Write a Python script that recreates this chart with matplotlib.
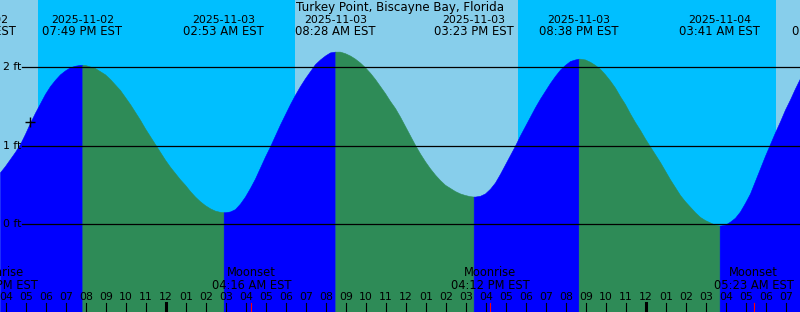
import pandas as pd
import matplotlib
matplotlib.use('Agg')
import matplotlib.pyplot as plt
import matplotlib.transforms as mtransforms

title = 'Turkey Point, Biscayne Bay, Florida'

# tide height (ft) every 15 minutes, starting at the left edge of the graph
sample_start = '2025-11-02 15:42'
heights = [0.66, 0.74, 0.83, 0.92, 1.02, 1.15, 1.29, 1.42, 1.54, 1.66,
           1.76, 1.84, 1.91, 1.96, 2.00, 2.02, 2.03, 2.03, 2.01, 1.99,
           1.95, 1.91, 1.85, 1.78, 1.71, 1.62, 1.53, 1.43, 1.33, 1.22,
           1.12, 1.02, 0.92, 0.82, 0.73, 0.65, 0.57, 0.50, 0.42, 0.35,
           0.29, 0.24, 0.20, 0.17, 0.155, 0.15, 0.16, 0.19, 0.26, 0.35,
           0.46, 0.58, 0.72, 0.86, 0.99, 1.13, 1.27, 1.40, 1.53, 1.65,
           1.76, 1.86, 1.95, 2.04, 2.10, 2.15, 2.19, 2.20, 2.20, 2.18,
           2.15, 2.11, 2.06, 2.00, 1.93, 1.85, 1.76, 1.67, 1.57, 1.48,
           1.37, 1.25, 1.13, 1.01, 0.90, 0.80, 0.71, 0.63, 0.56, 0.50,
           0.46, 0.42, 0.39, 0.37, 0.355, 0.35, 0.36, 0.39, 0.45, 0.53,
           0.64, 0.76, 0.88, 1.00, 1.13, 1.25, 1.37, 1.49, 1.60, 1.70,
           1.80, 1.89, 1.97, 2.03, 2.08, 2.10, 2.11, 2.10, 2.07, 2.03,
           1.98, 1.91, 1.83, 1.74, 1.63, 1.53, 1.41, 1.30, 1.20, 1.09,
           0.99, 0.89, 0.79, 0.68, 0.57, 0.47, 0.37, 0.29, 0.22, 0.15,
           0.09, 0.05, 0.02, -0.01, -0.02, -0.01, 0.03, 0.08, 0.16, 0.27,
           0.39, 0.55, 0.71, 0.87, 1.02, 1.17, 1.31, 1.46, 1.59, 1.73,
           1.86]

# high and low tides
tide_times = ['2025-11-02 14:31', '2025-11-02 19:49', '2025-11-03 02:53',
              '2025-11-03 08:28', '2025-11-03 15:23', '2025-11-03 20:38',
              '2025-11-04 03:41', '2025-11-04 09:19']
tide_heights = [0.45, 2.03, 0.15, 2.20, 0.35, 2.11, -0.02, 2.25]

# sunset / sunrise
sun_times = ['2025-11-02 17:36', '2025-11-03 06:27', '2025-11-03 17:36', '2025-11-04 06:30']

# moon events
moon_times = ['2025-11-02 15:36', '2025-11-03 04:16', '2025-11-03 16:12', '2025-11-04 05:23']
moon_events = ['Moonrise', 'Moonset', 'Moonrise', 'Moonset']

# "now" mark
now_time = '2025-11-02 17:12'
now_height = 1.30

ft_levels = [0, 1, 2]

day_color = '#87CEEB'
night_color = '#00BFFF'
flood_color = '#0000FF'
ebb_color = '#2E8B57'

midnight = pd.Timestamp('2025-11-03 00:00')


def hrs(t):
    return (pd.to_datetime(t) - midnight) / pd.Timedelta(hours=1)


t0 = hrs(sample_start)
t1 = t0 + 40
ybot, ytop = -1.123, 2.859

samp_t = [hrs(t) for t in pd.date_range(sample_start, periods=len(heights), freq='15min')]
ev_t = [hrs(t) for t in tide_times]
pts = sorted(list(zip(samp_t, heights)) + [p for p in zip(ev_t, tide_heights) if t0 <= p[0] <= t1])
all_t = [p[0] for p in pts]
all_h = [p[1] for p in pts]

fig = plt.figure(figsize=(8, 3.12), dpi=100)
ax = fig.add_axes([0, 0, 1, 1])
ax.set_xlim(t0, t1)
ax.set_ylim(ybot, ytop)
ax.axis('off')

# day / night background
edges = [t0] + [hrs(t) for t in sun_times] + [t1]
for i in range(len(edges) - 1):
    ax.axvspan(edges[i], edges[i + 1], color=day_color if i % 2 == 0 else night_color, lw=0)

# rising (flood) and falling (ebb) fills
for i in range(len(ev_t) - 1):
    a, b = max(ev_t[i], t0), min(ev_t[i + 1], t1)
    if b <= a:
        continue
    seg = [(t, h) for t, h in zip(all_t, all_h) if a <= t <= b]
    col = flood_color if tide_heights[i + 1] > tide_heights[i] else ebb_color
    ax.fill_between([s[0] for s in seg], [s[1] for s in seg], ybot,
                    color=col, lw=0.4, edgecolor=col)

# height lines
for lv in ft_levels:
    ax.plot([t0 + 22 / 20, t1], [lv, lv], color='black', lw=0.9)
    ax.text(t0 + 3 / 20, lv, f'{lv} ft', fontsize=7.8, va='center', ha='left')

ax.plot(hrs(now_time), now_height, marker='+', color='black', ms=6.5, mew=1.0)

blend = mtransforms.blended_transform_factory(ax.transData, fig.transFigure)

fig.text(0.5, 1 - 7.5 / 312, title, fontsize=8.6, ha='center', va='center')

# tide event labels
for t in pd.to_datetime(tide_times):
    x = hrs(t)
    ax.text(x, 1 - 20 / 312, t.strftime('%Y-%m-%d'), transform=blend,
            fontsize=7.8, ha='center', va='center', clip_on=False)
    ax.text(x, 1 - 31.5 / 312, t.strftime('%I:%M %p EST'), transform=blend,
            fontsize=8.4, ha='center', va='center', clip_on=False)

# moon labels and ticks
for t, ev in zip(pd.to_datetime(moon_times), moon_events):
    x = hrs(t)
    ax.text(x, 1 - 273 / 312, ev, transform=blend, fontsize=8.3, ha='center', va='center')
    ax.text(x, 1 - 285.5 / 312, t.strftime('%I:%M %p EST'), transform=blend,
            fontsize=8.3, ha='center', va='center')
    ax.plot([x, x], [0, 9 / 312], transform=blend, color='red', lw=0.8)

# hour ticks
for h in range(int(t0), int(t1) + 2):
    lab = f'{(h % 12) or 12:02d}'
    ax.text(h, 1 - 297.5 / 312, lab, transform=blend, fontsize=7.8, ha='center', va='center')
    if h % 24 == 0:
        ax.plot([h, h], [0, 9 / 312], transform=blend, color='black', lw=2.2)
    else:
        ax.plot([h, h], [0, 9 / 312], transform=blend, color='black', lw=0.8)

fig.savefig('out.png', dpi=100)
